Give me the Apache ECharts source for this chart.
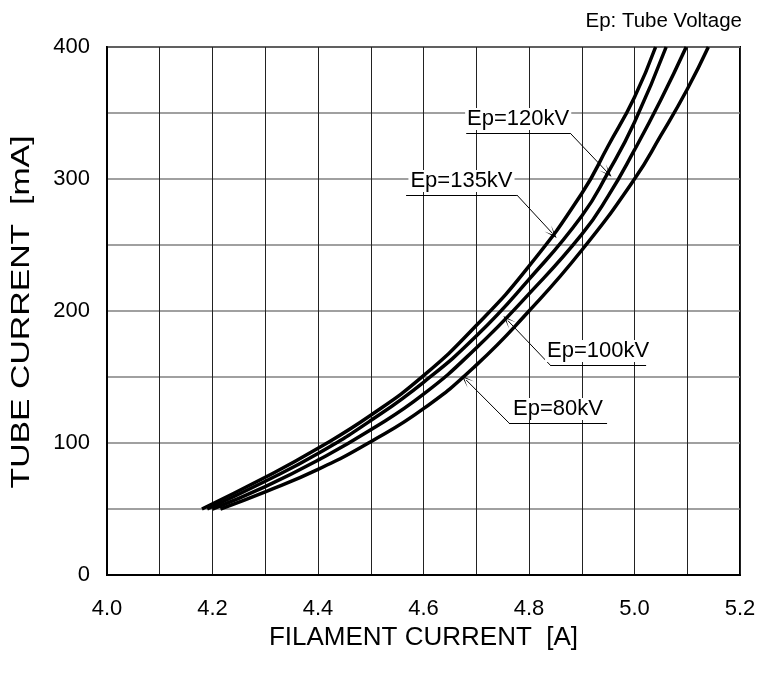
<!DOCTYPE html>
<html>
<head>
<meta charset="utf-8">
<title>Tube current vs filament current</title>
<script src="https://cdn.jsdelivr.net/npm/echarts@6/dist/echarts.min.js"></script>
<style>
  html, body { margin: 0; padding: 0; background: #fff; }
  #chart { width: 761px; height: 678px; }
</style>
</head>
<body>
<div id="chart"></div>
<script>
  // tick labels
  const xTickLabels = ['4.0', '4.2', '4.4', '4.6', '4.8', '5.0', '5.2'];
  const yTickLabels = ['0', '100', '200', '300', '400'];

  // [filament current A, tube current mA]
  const ep135 = [[4.18, 50], [4.3, 74], [4.4, 96], [4.5, 121], [4.6, 151], [4.7, 189], [4.8, 234], [4.9, 289], [4.95, 325], [5.0, 362], [5.04, 400]];
  const ep120 = [[4.19, 50], [4.3, 71], [4.4, 92], [4.5, 117], [4.6, 146], [4.7, 181], [4.8, 224], [4.9, 272], [4.95, 305], [5.0, 343], [5.06, 400]];
  const ep100 = [[4.2, 50], [4.3, 67], [4.4, 87], [4.5, 110], [4.6, 137], [4.7, 172], [4.8, 213], [4.9, 258], [4.95, 287], [5.0, 322], [5.05, 360], [5.098, 400]];
  const ep80 = [[4.215, 50], [4.3, 63], [4.4, 80], [4.5, 101], [4.6, 126], [4.7, 159], [4.8, 200], [4.9, 246], [5.0, 300], [5.05, 333], [5.1, 368], [5.14, 400]];

  // callouts in data units: underline ends, then where the leader points
  const callouts = [
    { name: 'Ep=120kV', data: ep120, under: [4.681, 4.878, 334.8], from: 1, tip: [4.948, 305.3] },
    { name: 'Ep=135kV', data: ep135, under: [4.567, 4.777, 287.9], from: 1, tip: [4.844, 259] },
    { name: 'Ep=100kV', data: ep100, under: [4.840, 5.022, 159.1], from: 0, tip: [4.760, 192.7] },
    { name: 'Ep=80kV', data: ep80, under: [4.762, 4.948, 115.2], from: 0, tip: [4.681, 147.7] }
  ];

  const FONT = '"Liberation Sans", Arial, sans-serif';
  const arrowPath = 'path://M0,0 L5,11 L0,3 L-5,11 Z';

  let chart = echarts.init(document.getElementById('chart'));

  let series = callouts.map(c => {
    let x0 = c.under[0], x1 = c.under[1], y = c.under[2];
    let start = c.from ? [x1, y] : [x0, y];
    return {
      name: c.name,
      type: 'line',
      data: c.data,
      smooth: 0.5,
      showSymbol: false,
      lineStyle: { color: '#000', width: 3.5 },
      markLine: {
        silent: true,
        symbol: 'none',
        lineStyle: { color: '#000', width: 1, type: 'solid' },
        label: { show: false },
        data: [
          [
            { coord: [x0, y], symbol: 'none' },
            {
              coord: [x1, y], symbol: 'none',
              label: {
                show: true,
                formatter: c.name,
                position: 'insideMiddleTop',
                distance: 3,
                color: '#000',
                fontSize: 22,
                fontFamily: FONT,
                backgroundColor: '#fff',
                padding: [0, 2]
              }
            }
          ],
          [
            { coord: start, symbol: 'none' },
            { coord: c.tip, symbol: arrowPath, symbolSize: [9, 13] }
          ]
        ]
      }
    };
  });

  chart.setOption({
    animation: false,
    title: {
      text: 'Ep: Tube Voltage',
      right: 14,
      top: 6,
      textStyle: { fontSize: 20.5, fontWeight: 'normal', color: '#000', fontFamily: FONT }
    },
    // y title is drawn stretched along its length, like the original
    graphic: [{
      type: 'text',
      x: 22,
      y: 312,
      rotation: Math.PI / 2,
      scaleX: 1.3,
      style: {
        text: 'TUBE CURRENT  [mA]',
        fontSize: 26,
        fontFamily: FONT,
        fill: '#000',
        align: 'center',
        verticalAlign: 'middle'
      }
    }],
    grid: {
      left: 107,
      right: 21,
      top: 47,
      bottom: 103,
      show: true,
      borderColor: '#000',
      borderWidth: 2,
      outerBoundsMode: 'none'
    },
    xAxis: {
      type: 'value',
      min: 4.0,
      max: 5.2,
      interval: 0.1,
      name: 'FILAMENT CURRENT  [A]',
      nameLocation: 'middle',
      nameGap: 47,
      nameTextStyle: { fontSize: 26, color: '#000', fontFamily: FONT },
      axisLine: { lineStyle: { color: '#000', width: 2 } },
      axisTick: { show: false },
      axisLabel: {
        margin: 23,
        fontSize: 22,
        color: '#000',
        fontFamily: FONT,
        formatter: v => {
          let s = v.toFixed(1);
          return xTickLabels.indexOf(s) >= 0 ? s : '';
        }
      },
      splitLine: { show: true, lineStyle: { color: '#222', width: 1 } }
    },
    yAxis: {
      type: 'value',
      min: 0,
      max: 400,
      interval: 50,
      axisLine: { show: true, lineStyle: { color: '#000', width: 2 } },
      axisTick: { show: false },
      axisLabel: {
        margin: 17,
        fontSize: 22,
        color: '#000',
        fontFamily: FONT,
        formatter: v => {
          let s = String(Math.round(v));
          return yTickLabels.indexOf(s) >= 0 ? s : '';
        }
      },
      splitLine: { show: true, lineStyle: { color: '#808080', width: 1.5 } }
    },
    series: series
  });
</script>
</body>
</html>
